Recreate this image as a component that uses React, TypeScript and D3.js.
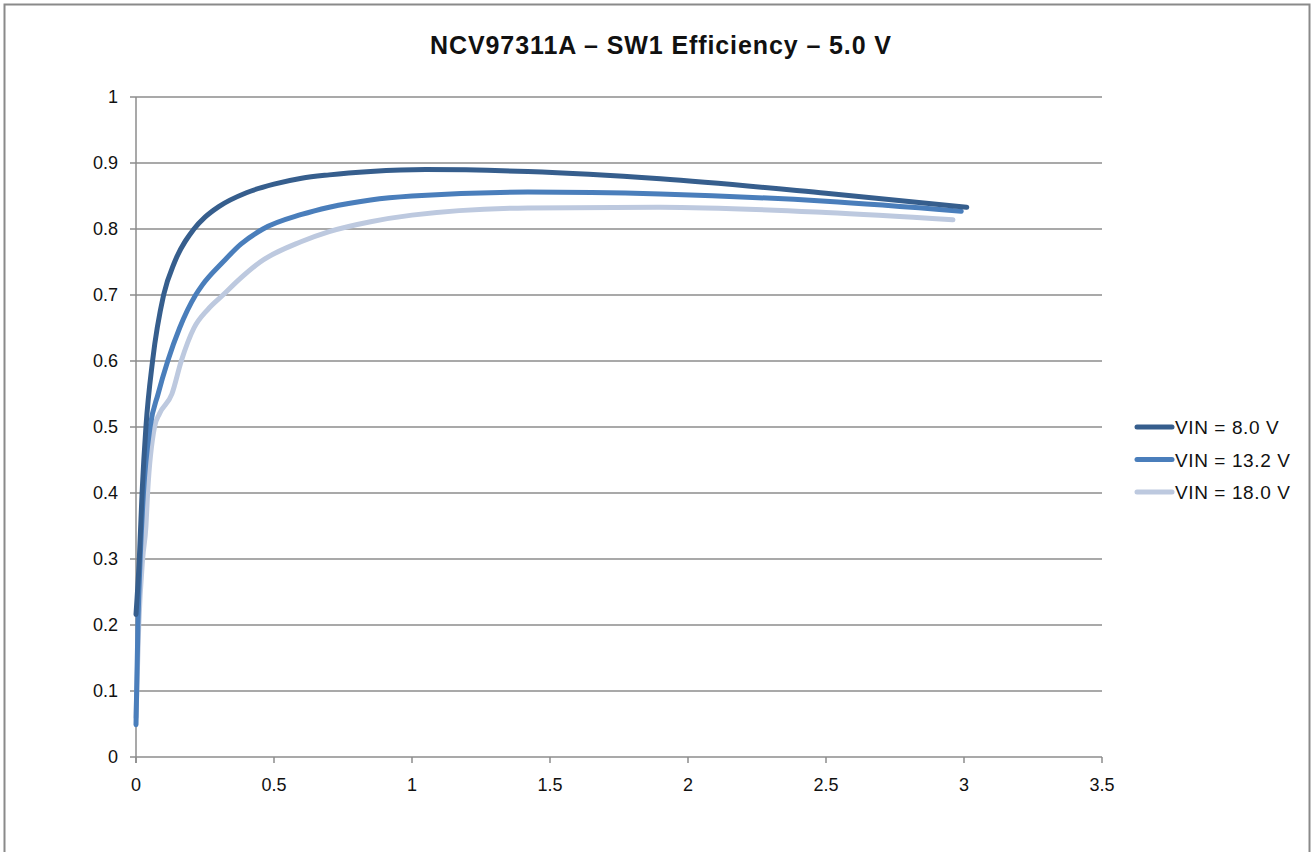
import React, { useRef, useEffect } from 'react';
import * as d3 from 'd3';

const title = 'NCV97311A – SW1 Efficiency – 5.0 V';

const seriesNames = ['VIN = 8.0 V', 'VIN = 13.2 V', 'VIN = 18.0 V'];
const seriesColors = ['#365e8d', '#4a7ebb', '#bdc9df'];

// load current (A) vs efficiency
const xVin8 = [0, 0.012, 0.022, 0.036, 0.06, 0.1, 0.14, 0.21, 0.25, 0.3, 0.4, 0.5, 0.6, 0.7, 0.85, 1.05, 1.42, 1.9, 2.5, 3.01];
const yVin8 = [0.216, 0.3, 0.4, 0.5, 0.6, 0.7, 0.75, 0.8, 0.818, 0.834, 0.855, 0.868, 0.877, 0.882, 0.887, 0.89, 0.887, 0.876, 0.854, 0.833];

const xVin13 = [0, 0.007, 0.015, 0.027, 0.051, 0.08, 0.115, 0.158, 0.216, 0.24, 0.315, 0.38, 0.46, 0.6, 0.7, 0.85, 1, 1.42, 1.9, 2.5, 2.99];
const yVin13 = [0.049, 0.2, 0.3, 0.4, 0.5, 0.55, 0.6, 0.65, 0.7, 0.715, 0.75, 0.777, 0.8, 0.822, 0.833, 0.844, 0.85, 0.856, 0.853, 0.842, 0.827];

const xVin18 = [0, 0.01, 0.024, 0.036, 0.042, 0.067, 0.085, 0.13, 0.164, 0.21, 0.26, 0.315, 0.38, 0.45, 0.6, 0.7, 0.85, 1, 1.42, 1.9, 2.5, 2.96];
const yVin18 = [0.06, 0.2, 0.3, 0.35, 0.4, 0.5, 0.52, 0.55, 0.6, 0.65, 0.678, 0.7, 0.726, 0.75, 0.781, 0.796, 0.811, 0.821, 0.832, 0.833, 0.825, 0.814];

const xTicks = [0, 0.5, 1, 1.5, 2, 2.5, 3, 3.5];
const yTicks = [0, 0.1, 0.2, 0.3, 0.4, 0.5, 0.6, 0.7, 0.8, 0.9, 1];

export default function App() {
  const svgRef = useRef<SVGSVGElement>(null);
  const width = 1314;
  const height = 852;

  useEffect(() => {
    const svg = d3.select(svgRef.current);
    svg.selectAll('*').remove();
    const font = '"Liberation Sans", Arial, sans-serif';

    const x = d3.scaleLinear().domain([0, 3.5]).range([136, 1102]);
    const y = d3.scaleLinear().domain([0, 1]).range([757, 97]);

    // outer frame
    svg.append('rect')
      .attr('x', 4.5).attr('y', 4.5)
      .attr('width', 1305).attr('height', 900)
      .attr('fill', '#fff')
      .attr('stroke', '#8a8a8a')
      .attr('stroke-width', 2);

    svg.append('text')
      .attr('x', 661).attr('y', 54)
      .attr('text-anchor', 'middle')
      .attr('font-family', font)
      .attr('font-weight', 'bold')
      .attr('font-size', 25)
      .attr('letter-spacing', 0.9)
      .attr('fill', '#111')
      .text(title);

    // gridlines
    svg.append('g')
      .selectAll('line')
      .data(yTicks)
      .enter()
      .append('line')
      .attr('x1', x(0) - 6).attr('x2', x(3.5))
      .attr('y1', d => y(d)).attr('y2', d => y(d))
      .attr('stroke', '#8c8c8c')
      .attr('stroke-width', 1.5);

    // y axis line
    svg.append('line')
      .attr('x1', x(0)).attr('x2', x(0))
      .attr('y1', y(1)).attr('y2', y(0) + 6)
      .attr('stroke', '#8c8c8c')
      .attr('stroke-width', 1.5);

    // x ticks
    svg.append('g')
      .selectAll('line')
      .data(xTicks)
      .enter()
      .append('line')
      .attr('x1', d => x(d)).attr('x2', d => x(d))
      .attr('y1', y(0)).attr('y2', y(0) + 6)
      .attr('stroke', '#8c8c8c')
      .attr('stroke-width', 1.5);

    svg.append('g')
      .selectAll('text')
      .data(yTicks)
      .enter()
      .append('text')
      .attr('x', 118)
      .attr('y', d => y(d) + 6)
      .attr('text-anchor', 'end')
      .attr('font-family', font)
      .attr('font-size', 18)
      .attr('fill', '#111')
      .text(d => String(d));

    svg.append('g')
      .selectAll('text')
      .data(xTicks)
      .enter()
      .append('text')
      .attr('x', d => x(d))
      .attr('y', 791)
      .attr('text-anchor', 'middle')
      .attr('font-family', font)
      .attr('font-size', 18)
      .attr('fill', '#111')
      .text(d => String(d));

    const series = [
      xVin8.map((v, i) => [v, yVin8[i]] as [number, number]),
      xVin13.map((v, i) => [v, yVin13[i]] as [number, number]),
      xVin18.map((v, i) => [v, yVin18[i]] as [number, number]),
    ];

    const line = d3.line<[number, number]>()
      .x(d => x(d[0]))
      .y(d => y(d[1]))
      .curve(d3.curveMonotoneX);

    // draw light first so darker sits on top
    [2, 1, 0].forEach(i => {
      svg.append('path')
        .attr('d', line(series[i]))
        .attr('fill', 'none')
        .attr('stroke', seriesColors[i])
        .attr('stroke-width', 5)
        .attr('stroke-linecap', 'round')
        .attr('stroke-linejoin', 'round');
    });

    // legend
    const lg = svg.append('g');
    seriesNames.forEach((name, i) => {
      const ly = 427 + i * 32.5;
      lg.append('line')
        .attr('x1', 1137).attr('x2', 1172)
        .attr('y1', ly).attr('y2', ly)
        .attr('stroke', seriesColors[i])
        .attr('stroke-width', 5)
        .attr('stroke-linecap', 'round');
      lg.append('text')
        .attr('x', 1175).attr('y', ly + 7)
        .attr('font-family', font)
        .attr('font-size', 19)
        .attr('letter-spacing', 0.6)
        .attr('fill', '#111')
        .text(name);
    });
  }, []);

  return (
    <svg
      ref={svgRef}
      width={width}
      height={height}
      style={{ position: 'absolute', left: 0, top: 0, background: '#fff' }}
    />
  );
}
